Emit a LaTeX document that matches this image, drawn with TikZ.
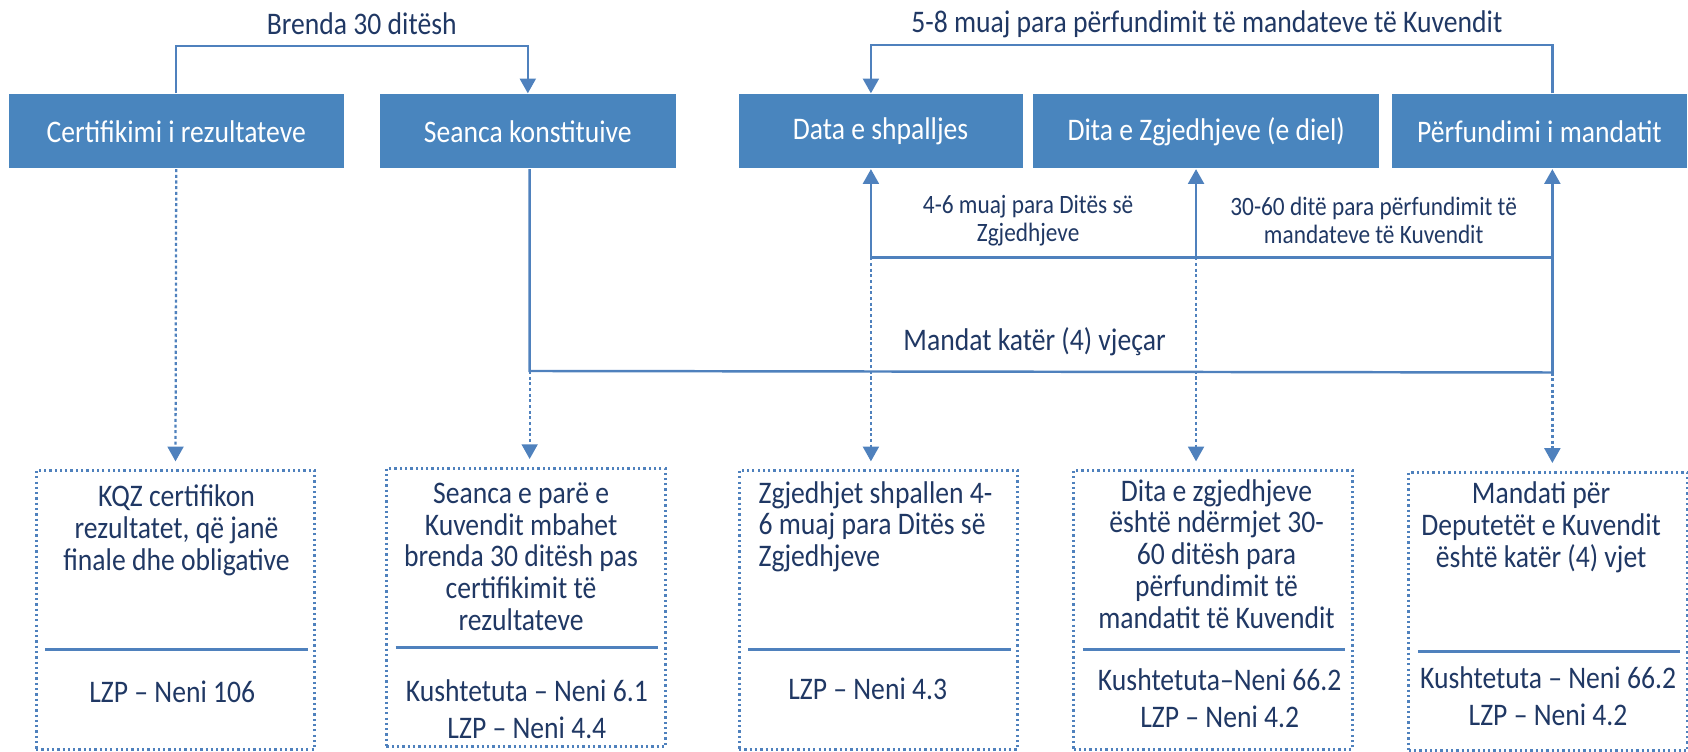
\documentclass[tikz,border=0pt]{standalone}
\usepackage{fontspec}
\setmainfont{Carlito}[FakeStretch=0.88]
\usetikzlibrary{arrows.meta}
\definecolor{boxblue}{RGB}{73,133,190}
\definecolor{lineblue}{RGB}{79,129,189}
\definecolor{inkblue}{RGB}{32,56,100}

\begin{document}
\begin{tikzpicture}[
			every node/.style = {font=\fontsize{8.3}{8.4}\selectfont, text=inkblue, inner sep=0pt},
			phase/.style = {fill=boxblue, text=white, minimum width=#1, minimum height=0.69cm},
			lawbox/.style = {draw=lineblue, line width=0.8pt, dash pattern=on 0.6pt off 0.8pt, minimum width=2.59cm, minimum height=2.59cm},
			link/.style = {draw=lineblue, line width=0.65pt},
			hint/.style = {draw=lineblue, line width=0.6pt, dash pattern=on 0.8pt off 0.7pt},
			tip/.style = {-{Triangle[width=4.2pt,length=3.9pt]}},
			sep/.style = {draw=lineblue, line width=0.8pt},
			small/.style = {font=\fontsize{7}{7.4}\selectfont, align=center},
			refs/.style = {font=\fontsize{8.3}{9.8}\selectfont, align=center}]

			\useasboundingbox (0,0) rectangle (15.68,-6.98);

			% faza kryesore
			\node[phase=3.11cm] (cert) at (1.637,-1.219) {Certifikimi i rezultateve};
			\node[phase=2.755cm] (seanca) at (4.903,-1.219) {Seanca konstituive};
			\node[phase=2.64cm] (data) at (8.18,-1.219) {Data e shpalljes};
			\node[phase=3.21cm] (dita) at (11.205,-1.219) {Dita e Zgjedhjeve (e diel)};
			\node[phase=2.74cm] (perf) at (14.30,-1.219) {Përfundimi i mandatit};

			\coordinate (j1) at (8.09,-2.39);
			\coordinate (j2) at (11.11,-2.39);
			\coordinate (j3) at (14.42,-2.39);
			\coordinate (m1) at (4.92,-3.446);
			\coordinate (m2) at (14.42,-3.46);

			\node (lbl1) at (3.36,-0.217) {Brenda 30 ditësh};
			\node (lbl2) at (11.21,-0.23) {5-8 muaj para përfundimit të mandateve të Kuvendit};
			\node[small] (lbl3) at (9.55,-2.05) {4-6 muaj para Ditës së\\Zgjedhjeve};
			\node[small] (lbl4) at (12.76,-2.05) {30-60 ditë para përfundimit të\\mandateve të Kuvendit};
			\node (lbl5) at (9.61,-3.17) {Mandat katër (4) vjeçar};

			\draw[link,tip] (cert.north) -- ++(0,0.44) -| (seanca.north);
			\draw[link,tip] (perf.north -| j3) -- ++(0,0.45) -| (data.north -| j1);

			\draw[link,line width=0.8pt] (j1) -- (j3);
			\draw[link,tip] (j1) -- (data.south -| j1);
			\draw[link,tip] (j2) -- (dita.south -| j2);
			\draw[link,tip] (m2) -- (perf.south -| m2);
			\draw[link] (seanca.south -| m1) -- (m1) -- (m2);

			% bazat ligjore
			\node[lawbox] (bx1) at (1.63,-5.665) {};
			\node[lawbox] (bx2) at (4.885,-5.643) {};
			\node[lawbox] (bx3) at (8.16,-5.665) {};
			\node[lawbox] (bx4) at (11.267,-5.665) {};
			\node[lawbox] (bx5) at (14.38,-5.68) {};

			\draw[hint,tip,shorten >=2pt] (cert.south) -- (bx1.north);
			\draw[hint,tip,shorten >=2pt] (m1) -- (bx2.north -| m1);
			\draw[hint,tip,shorten >=2pt] (j1) -- (bx3.north -| j1);
			\draw[hint,tip,shorten >=2pt] (j2) -- (bx4.north -| j2);
			\draw[hint,tip,shorten >=2pt] (m2) -- (bx5.north -| m2);

			\foreach \b in {bx1,bx2,bx3,bx4,bx5}
				\draw[sep] ([shift={(0.1,-1.68)}]\b.north west) -- ([shift={(-0.08,-1.68)}]\b.north east);

			\node[align=center] (t1) at (1.64,-4.925) {KQZ certifikon\\rezultatet, që janë\\finale dhe obligative};
			\node[align=center] (t2) at (4.84,-5.17) {Seanca e parë e\\Kuvendit mbahet\\brenda 30 ditësh pas\\certifikimit të\\rezultateve};
			\node[align=left,anchor=west] (t3) at (7.04,-4.893) {Zgjedhjet shpallen 4-\\6 muaj para Ditës së\\Zgjedhjeve};
			\node[align=center] (t4) at (11.30,-5.145) {Dita e zgjedhjeve\\është ndërmjet 30-\\60 ditësh para\\përfundimit të\\mandatit të Kuvendit};
			\node[align=center] (t5) at (14.316,-4.90) {Mandati për\\Deputetët e Kuvendit\\është katër (4) vjet};

			\node[refs] (r1) at (1.60,-6.425) {LZP – Neni 106};
			\node[refs] (r2) at (4.894,-6.59) {Kushtetuta – Neni 6.1\\LZP – Neni 4.4};
			\node[refs] (r3) at (8.06,-6.394) {LZP – Neni 4.3};
			\node[refs] (r4) at (11.33,-6.487) {Kushtetuta–Neni 66.2\\LZP – Neni 4.2};
			\node[refs] (r5) at (14.38,-6.47) {Kushtetuta – Neni 66.2\\LZP – Neni 4.2};

		\end{tikzpicture}
\end{document}
